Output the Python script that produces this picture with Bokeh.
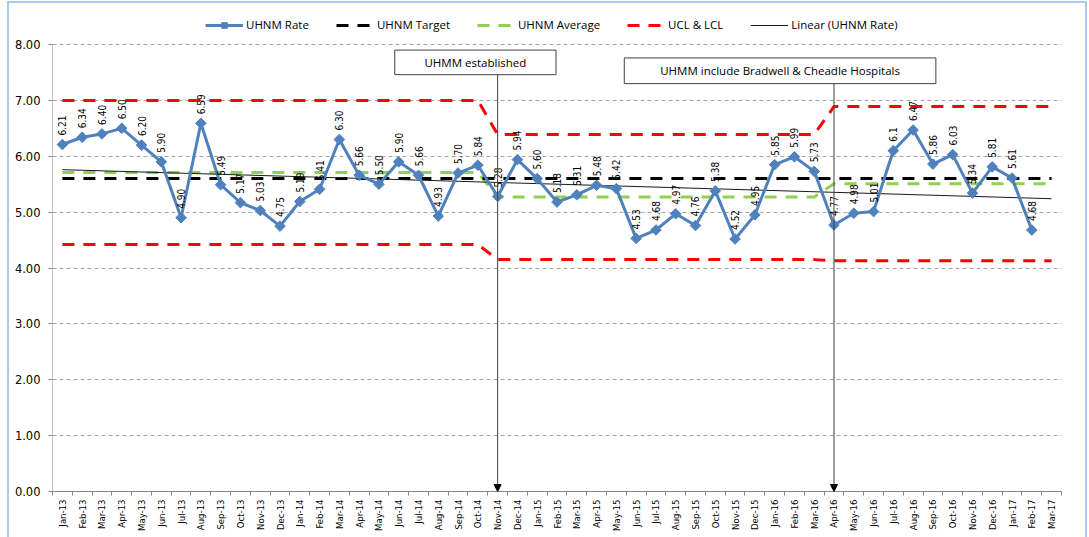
from math import pi
from bokeh.plotting import figure
from bokeh.models import (FixedTicker, Legend, LegendItem, Arrow, NormalHead,
                          NumeralTickFormatter, Range1d, ColumnDataSource)
from bokeh.core.properties import value
from bokeh.embed import file_html
from bokeh.resources import INLINE

# ---------------- data ----------------
months = ["Jan-13", "Feb-13", "Mar-13", "Apr-13", "May-13", "Jun-13", "Jul-13", "Aug-13",
          "Sep-13", "Oct-13", "Nov-13", "Dec-13",
          "Jan-14", "Feb-14", "Mar-14", "Apr-14", "May-14", "Jun-14", "Jul-14", "Aug-14",
          "Sep-14", "Oct-14", "Nov-14", "Dec-14",
          "Jan-15", "Feb-15", "Mar-15", "Apr-15", "May-15", "Jun-15", "Jul-15", "Aug-15",
          "Sep-15", "Oct-15", "Nov-15", "Dec-15",
          "Jan-16", "Feb-16", "Mar-16", "Apr-16", "May-16", "Jun-16", "Jul-16", "Aug-16",
          "Sep-16", "Oct-16", "Nov-16", "Dec-16",
          "Jan-17", "Feb-17", "Mar-17"]

rate = [6.21, 6.34, 6.40, 6.50, 6.20, 5.90, 4.90, 6.59, 5.49, 5.17, 5.03, 4.75,
        5.19, 5.41, 6.30, 5.66, 5.50, 5.90, 5.66, 4.93, 5.70, 5.84, 5.28, 5.94,
        5.60, 5.18, 5.31, 5.48, 5.42, 4.53, 4.68, 4.97, 4.76, 5.38, 4.52, 4.95,
        5.85, 5.99, 5.73, 4.77, 4.98, 5.01, 6.1, 6.47, 5.86, 6.03, 5.34, 5.81,
        5.61, 4.68]

rate_labels = ["6.21", "6.34", "6.40", "6.50", "6.20", "5.90", "4.90", "6.59", "5.49", "5.17",
               "5.03", "4.75", "5.19", "5.41", "6.30", "5.66", "5.50", "5.90", "5.66", "4.93",
               "5.70", "5.84", "5.28", "5.94", "5.60", "5.18", "5.31", "5.48", "5.42", "4.53",
               "4.68", "4.97", "4.76", "5.38", "4.52", "4.95", "5.85", "5.99", "5.73", "4.77",
               "4.98", "5.01", "6.1", "6.47", "5.86", "6.03", "5.34", "5.81", "5.61", "4.68"]

target = [5.60] * 51

average = ([5.71] * 22) + ([5.27] * 17) + ([5.51] * 12)
ucl = ([7.00] * 22) + ([6.39] * 17) + ([6.89] * 12)
lcl = ([4.42] * 22) + ([4.15] * 17) + ([4.13] * 12)

trend_months = ["Jan-13", "Mar-17"]
trend_values = [5.76, 5.24]

y_ticks = [0, 1, 2, 3, 4, 5, 6, 7, 8]

# ---------------- figure ----------------
n = len(months)
xi = list(range(n))
rx = xi[:len(rate)]
y_top = 8.734  # headroom above 8.00 holds the legend

p = figure(width=1076, height=534, output_backend="svg", toolbar_location=None,
           x_range=Range1d(-0.5, n - 0.5), y_range=Range1d(0, y_top),
           min_border_left=43, min_border_right=24, min_border_top=0, min_border_bottom=46,
           styles={"margin-left": "9px", "margin-top": "3px",
                   "outline": "2px solid #A9CBE8"})
p.outline_line_color = None
p.background_fill_color = "white"
p.border_fill_color = "white"

# axes
p.xaxis.ticker = FixedTicker(ticks=xi, minor_ticks=[i - 0.5 for i in range(n + 1)])
p.xaxis.major_label_overrides = {i: m for i, m in enumerate(months)}
p.xaxis.major_label_orientation = pi / 2
p.xaxis.major_tick_out = 0
p.xaxis.major_tick_in = 0
p.xaxis.minor_tick_out = 4
p.xaxis.minor_tick_in = 0
p.xaxis.minor_tick_line_color = "#868686"
p.xaxis.axis_line_color = "#868686"
p.xaxis.major_label_text_font = "DejaVu Sans Condensed"
p.xaxis.major_label_text_font_size = "9.5px"
p.xaxis.major_label_text_color = "#000000"
p.xaxis.major_label_standoff = 4

p.yaxis.ticker = FixedTicker(ticks=y_ticks)
p.yaxis.formatter = NumeralTickFormatter(format="0.00")
p.yaxis.major_tick_out = 4
p.yaxis.major_tick_in = 0
p.yaxis.minor_tick_line_color = None
p.yaxis.major_tick_line_color = "#868686"
p.yaxis.axis_line_color = None
p.yaxis.major_label_text_font = "DejaVu Sans"
p.yaxis.major_label_text_font_size = "11.5px"
p.yaxis.major_label_text_color = "#000000"
p.yaxis.major_label_standoff = 8

# y axis line only up to 8.00
p.segment(x0=[-0.5], y0=[y_ticks[0]], x1=[-0.5], y1=[y_ticks[-1]],
          line_color="#868686", line_width=1)

p.xgrid.grid_line_color = None
p.ygrid.ticker = FixedTicker(ticks=y_ticks[1:])
p.ygrid.grid_line_color = "#A6A6A6"
p.ygrid.grid_line_dash = "4 3"
p.ygrid.grid_line_width = 1

# series
r_avg = p.line(xi, average, line_color="#92D050", line_width=3, line_dash="12 9")
r_tgt = p.line(xi, target, line_color="#000000", line_width=3, line_dash="12 9")
r_ucl = p.line(xi, ucl, line_color="#FF0000", line_width=3, line_dash="12 9")
p.line(xi, lcl, line_color="#FF0000", line_width=3, line_dash="12 9")
r_trend = p.line([months.index(m) for m in trend_months], trend_values,
                 line_color="#1A1A1A", line_width=1)
r_rate = p.line(rx, rate, line_color="#4F81BD", line_width=3)
r_mark = p.scatter(rx, rate, marker="square", size=7.5, angle=pi / 4,
                   fill_color="#4F81BD", line_color="#4F81BD")

lbl_src = ColumnDataSource(dict(x=rx, y=rate, t=rate_labels))
p.text("x", "y", text="t", source=lbl_src, angle=pi / 2, text_align="left",
       text_baseline="middle", y_offset=-9, text_font=value("DejaVu Sans Condensed"),
       text_font_size="10px", text_color="#000000")

# annotations
boxes = [
    dict(text="UHMM established", left=16.8, right=24.95, top=7.90, bottom=7.46, at="Nov-14"),
    dict(text="UHMM include Bradwell & Cheadle Hospitals", left=28.4, right=44.15,
         top=7.76, bottom=7.30, at="Apr-16"),
]
for b in boxes:
    xa = months.index(b["at"])
    p.add_layout(Arrow(end=NormalHead(size=7, fill_color="#000000", line_color="#000000"),
                       x_start=xa, y_start=b["bottom"], x_end=xa, y_end=0.0,
                       line_color="#404040", line_width=1))
    p.quad(left=[b["left"]], right=[b["right"]], top=[b["top"]], bottom=[b["bottom"]],
           fill_color="white", line_color="#404040", line_width=1)
    p.text([(b["left"] + b["right"]) / 2], [(b["top"] + b["bottom"]) / 2], text=[b["text"]],
           text_align="center", text_baseline="middle", text_font=value("Open Sans"),
           text_font_size="11.5px", text_color="#000000")

legend = Legend(items=[
    LegendItem(label="UHNM Rate", renderers=[r_rate, r_mark]),
    LegendItem(label="UHNM Target", renderers=[r_tgt]),
    LegendItem(label="UHNM Average", renderers=[r_avg]),
    LegendItem(label="UCL & LCL", renderers=[r_ucl]),
    LegendItem(label="Linear (UHNM Rate)", renderers=[r_trend]),
], orientation="horizontal", location=(153, 459))
legend.label_text_font = "Open Sans"
legend.label_text_font_size = "11.5px"
legend.label_text_color = "#000000"
legend.glyph_width = 38
legend.glyph_height = 14
legend.label_height = 14
legend.label_standoff = 3
legend.spacing = 27
legend.padding = 4
legend.margin = 0
legend.border_line_color = None
legend.background_fill_color = None
p.add_layout(legend, "center")

open("out.html", "w").write(file_html(p, INLINE))
